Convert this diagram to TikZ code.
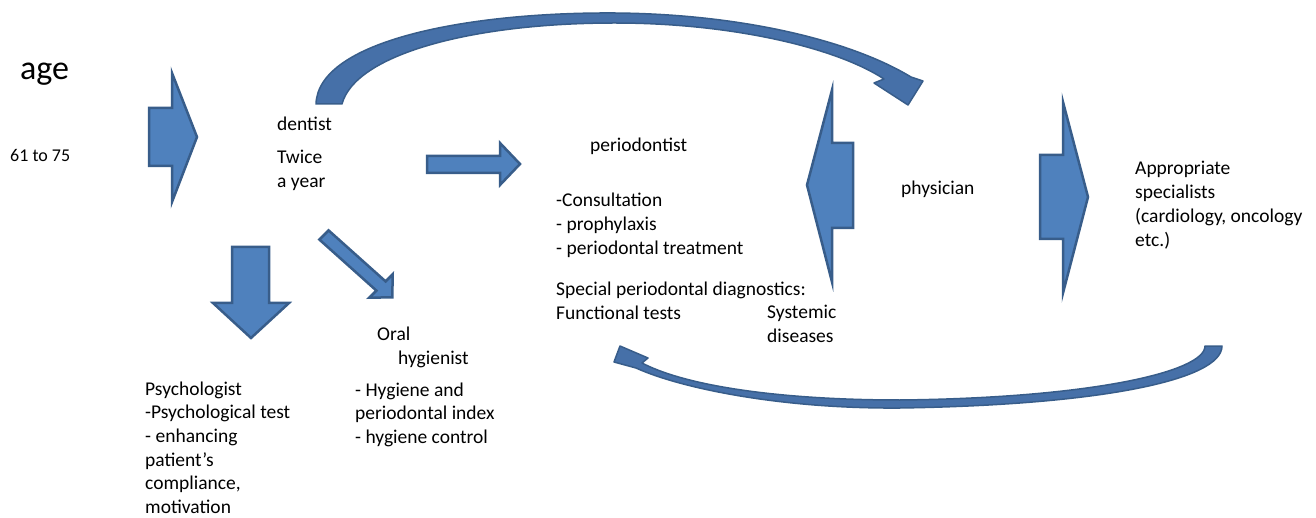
\documentclass[tikz,border=0pt]{standalone}
\usepackage{fontspec}
\setmainfont{Carlito}
\definecolor{afill}{HTML}{4F81BD}
\definecolor{aedge}{HTML}{385D8A}
\definecolor{cfill}{HTML}{4670A8}
\newcommand\lns[1]{\begin{tabular}[t]{@{}l@{}}#1\end{tabular}}
\tikzset{
  blockarrow/.style={fill=afill,draw=aedge,line width=2.5pt,line join=miter},
  curvearrow/.style={fill=cfill,draw=aedge,line width=1.5pt,line join=round},
  txt/.style={inner sep=0pt,anchor=base west,font=\fontsize{19.5}{23.7}\selectfont},
}
\begin{document}
\begin{tikzpicture}[x=1pt,y=-1pt]
\useasboundingbox (0,0) rectangle (1316,518);

% block arrows
\draw[blockarrow] (149,108) -- (172,108) -- (172,73) -- (197,137) -- (172,202) -- (172,166) -- (149,166) -- cycle;
\draw[blockarrow] (427,156) -- (500,156) -- (500,143) -- (520,164) -- (500,185) -- (500,173) -- (427,173) -- cycle;
\draw[blockarrow] (232,247) -- (269,247) -- (269,303) -- (289,303) -- (251,338) -- (213,303) -- (232,303) -- cycle;
\draw[blockarrow] (328.6,230.4) -- (385.6,281.4) -- (392.7,274.3) -- (392.3,297.3) -- (369.3,297.7) -- (376.4,290.6) -- (319.4,239.6) -- cycle;
\draw[blockarrow] (807,185) -- (832,90) -- (832,143) -- (853,143) -- (853,228) -- (832,228) -- (832,282) -- cycle;
\draw[blockarrow] (1040,155) -- (1063,155) -- (1063,102) -- (1088,197) -- (1063,293) -- (1063,239) -- (1040,239) -- cycle;

% curved arrows
\draw[curvearrow] (316,104) .. controls (318,40) and (470,12) .. (615,13)
  .. controls (740,14) and (850,40) .. (911,77) -- (923,81) -- (908,105) -- (874,83) -- (884,79)
  .. controls (835,47) and (730,23) .. (615,23)
  .. controls (470,23) and (355,55) .. (342,104) -- cycle;
\draw[curvearrow] (1205,346) -- (1222,346) .. controls (1222,380) and (1100,405) .. (900,408)
  .. controls (780,409) and (680,388) .. (636,368) -- (614,362) -- (620,346) -- (648,358) -- (642,363)
  .. controls (690,388) and (790,400) .. (900,400)
  .. controls (1090,398) and (1205,372) .. (1205,346) -- cycle;

% texts
\node[txt,font=\fontsize{34}{40}\selectfont] (age) at (20,80) {age};
\node[txt,font=\fontsize{18}{22}\selectfont] (range) at (10,162) {61 to 75};
\node[txt] (dentist) at (277,131) {dentist};
\node[txt] (twice) at (277,164) {\lns{Twice\\a year}};
\node[txt] (perio) at (590,152) {periodontist};
\node[txt] (periolist) at (556,207) {\lns{-Consultation\\- prophylaxis\\- periodontal treatment}};
\node[txt] (special) at (556,296) {\lns{Special periodontal diagnostics:\\Functional tests}};
\node[txt] (systemic) at (767,319) {\lns{Systemic\\diseases}};
\node[txt] (physician) at (901,195) {physician};
\node[txt] (approp) at (1135,175) {\lns{Appropriate\\specialists\\(cardiology, oncology\\etc.)}};
\node[txt] (oral) at (377,341) {Oral};
\node[txt] (hygienist) at (398,364) {hygienist};
\node[txt] (hyglist) at (355,396) {\lns{- Hygiene and\\periodontal index\\- hygiene control}};
\node[txt] (psych) at (145,395) {\lns{Psychologist\\-Psychological test\\- enhancing\\patient’s\\compliance,\\motivation}};
\end{tikzpicture}
\end{document}
